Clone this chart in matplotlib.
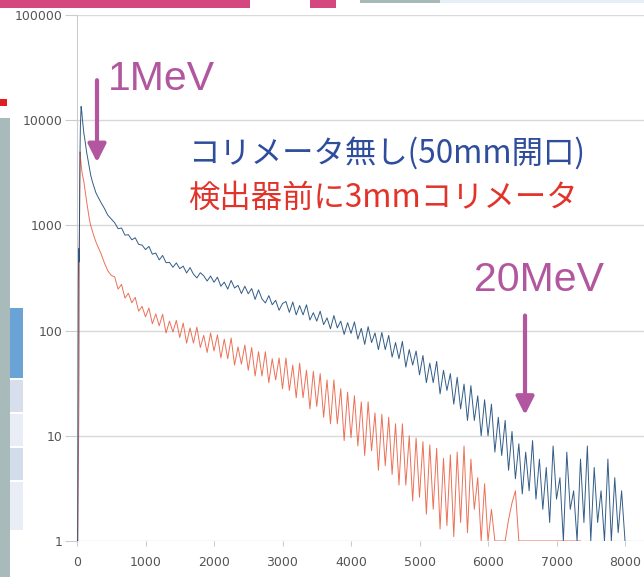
import numpy as np
import matplotlib
matplotlib.use("Agg")
import matplotlib.pyplot as plt
from matplotlib.patches import Rectangle

plt.rcParams['font.family'] = ['DejaVu Sans']

# チャンネル (先頭は細かく、以降50ch刻み)
head_ch = [0, 10, 20, 25, 30, 35, 40, 45, 50, 60, 70, 80, 90, 100, 120, 140, 160,
           180, 200, 225, 250, 275, 300, 350, 400, 450, 500]
tail_ch_blue = np.arange(550, 8001, 50)
tail_ch_red = np.arange(550, 7351, 50)

# コリメータ無し(50mm開口)
blue_head = [1, 1, 300, 600, 450, 900, 2500, 5500, 9000, 13500, 12000, 10000, 8700,
             7500, 6200, 5000, 4200, 3500, 3000, 2600, 2300, 2050, 1900, 1650, 1450,
             1250, 1150]
blue_tail = [
    1060, 930, 945, 808, 816, 730, 763, 660, 650, 589,
    631, 532, 546, 470, 518, 442, 445, 400, 440, 388,
    410, 353, 397, 344, 317, 355, 332, 296, 330, 288,
    322, 264, 289, 248, 300, 254, 269, 225, 264, 224,
    251, 198, 244, 200, 183, 215, 176, 194, 156, 181,
    189, 149, 187, 141, 173, 141, 176, 126, 148, 123,
    153, 114, 132, 104, 139, 106, 123, 92, 119, 94,
    121, 83, 105, 74, 109, 77, 95, 66, 96, 66,
    90, 56, 77, 54, 79, 45, 66, 47, 64, 38,
    58, 32, 49, 32, 51, 25, 42, 27, 39, 20,
    36, 18, 31, 14, 30, 14, 24, 10, 22, 10,
    20, 7, 15, 6.5, 14, 4.7, 11, 3.9, 8.4, 2.8,
    7, 3, 9, 2.5, 6, 2, 5, 1.5, 8, 2.5,
    4, 1, 7, 2, 3, 1, 6, 1.5, 8, 1,
    5, 1.5, 3, 1, 6, 1, 4, 1.2, 3, 1,
]

# 検出器前に3mmコリメータ
red_head = [1, 1, 5, 12, 40, 600, 2500, 5000, 4500, 3800, 3300, 3000, 2800,
            2600, 2100, 1700, 1400, 1150, 1000, 880, 780, 700, 640, 540, 440,
            370, 335]
red_tail = [
    324, 248, 275, 204, 226, 184, 207, 153, 170, 135,
    164, 116, 144, 111, 143, 95, 123, 97, 125, 86,
    118, 76, 106, 76, 108, 69, 90, 62, 95, 64,
    91, 55, 83, 54, 85, 47, 70, 48, 73, 42,
    69, 37, 63, 37, 63, 32, 54, 34, 55, 28,
    55, 27, 47, 23, 49, 23, 42, 18, 41, 19,
    39, 15, 34, 13, 34, 13, 28, 9, 26, 9.6,
    24, 8, 21, 6.5, 21, 7.2, 16.5, 4.7, 16, 5.2,
    15, 4.3, 13, 3.4, 13, 3.4, 10, 2.4, 9.5, 2.6,
    8.8, 1.8, 8.2, 2, 7.6, 1.3, 6.1, 1.4, 6.6, 1.1,
    7, 1.5, 8, 1.2, 6, 2, 4, 1, 3.5, 1,
    2, 1, 1, 1, 1, 1.6, 2.3, 3.0, 1, 1,
    1, 1, 1, 1, 1, 1, 1, 1, 1, 1,
    1, 1, 1, 1, 1, 1, 1,
]

x_ticks = [0, 1000, 2000, 3000, 4000, 5000, 6000, 7000, 8000]
y_ticks = [1, 10, 100, 1000, 10000, 100000]
y_labels = ["1", "10", "100", "1000", "10000", "100000"]

blue_ch = np.concatenate([head_ch, tail_ch_blue])
blue_cnt = np.array(blue_head + blue_tail, dtype=float)
red_ch = np.concatenate([head_ch, tail_ch_red])
red_cnt = np.array(red_head + red_tail, dtype=float)

W, H = 644, 577
fig = plt.figure(figsize=(W / 100, H / 100), dpi=100)
fig.patch.set_facecolor("white")

# スライド背景の切れ端
def px_rect(x, y, w, h, color):
    fig.add_artist(Rectangle((x / W, 1 - (y + h) / H), w / W, h / H,
                             transform=fig.transFigure, color=color, lw=0, zorder=0))

px_rect(0, 0, 250, 8, "#d4477f")
px_rect(310, 0, 26, 8, "#d4477f")
px_rect(360, 0, 80, 3, "#a9b9b8")
px_rect(440, 0, 204, 3, "#e6eef8")
px_rect(0, 118, 10, 459, "#a9baba")
px_rect(10, 308, 13, 70, "#6aa3d5")
px_rect(10, 380, 13, 32, "#d6dfeb")
px_rect(10, 414, 13, 32, "#e9eef6")
px_rect(10, 448, 13, 32, "#d3dceb")
px_rect(10, 482, 13, 48, "#e9eef6")
px_rect(0, 99, 7, 7, "#e02020")

ax = fig.add_axes([77 / W, 36 / H, 567 / W, 526 / H])
ax.set_yscale("log")
ax.set_xlim(0, 8277)
ax.set_ylim(1, 100000)

ax.plot(red_ch, red_cnt, color="#e8583a", lw=0.7, alpha=0.85, zorder=3)
ax.plot(blue_ch, blue_cnt, color="#1d4b7a", lw=0.7, alpha=0.9, zorder=4)

ax.set_xticks(x_ticks)
ax.set_yticks(y_ticks)
ax.set_yticklabels(y_labels)
ax.minorticks_off()
ax.grid(axis="y", color="#d9d9d9", lw=1)
ax.set_axisbelow(True)
for s in ["top", "right", "bottom"]:
    ax.spines[s].set_visible(False)
ax.spines["left"].set_color("#cccccc")
ax.tick_params(axis="y", length=8.6, color="#cccccc", pad=2, labelsize=9, labelcolor="#555555")
ax.tick_params(axis="x", length=3.6, color="#cccccc", pad=7, labelsize=9, labelcolor="#555555")

purple = "#b2569f"
ax.text(453, 19300, "1MeV", fontsize=29.5, color=purple, family="Liberation Sans",
        va="baseline", ha="left")
ax.annotate("", xy=(292, 3980), xytext=(292, 24000),
            arrowprops=dict(arrowstyle="-|>,head_length=0.6,head_width=0.3",
                            color=purple, lw=3, mutation_scale=18, shrinkA=0, shrinkB=0))
ax.text(5796, 240, "20MeV", fontsize=29.5, color=purple, family="Liberation Sans",
        va="baseline", ha="left")
ax.annotate("", xy=(6540, 15.8), xytext=(6540, 139),
            arrowprops=dict(arrowstyle="-|>,head_length=0.6,head_width=0.3",
                            color=purple, lw=3, mutation_scale=18, shrinkA=0, shrinkB=0))

jp = ["Noto Sans CJK JP", "DejaVu Sans"]
ax.text(1620, 4850, "コリメータ無し(50mm開口)", fontsize=22.6, color="#2e4d9c",
        family=jp, va="center", ha="left")
ax.text(1620, 1845, "検出器前に3mmコリメータ", fontsize=22.6, color="#e2332a",
        family=jp, va="center", ha="left")

fig.savefig("out.png", dpi=100)
